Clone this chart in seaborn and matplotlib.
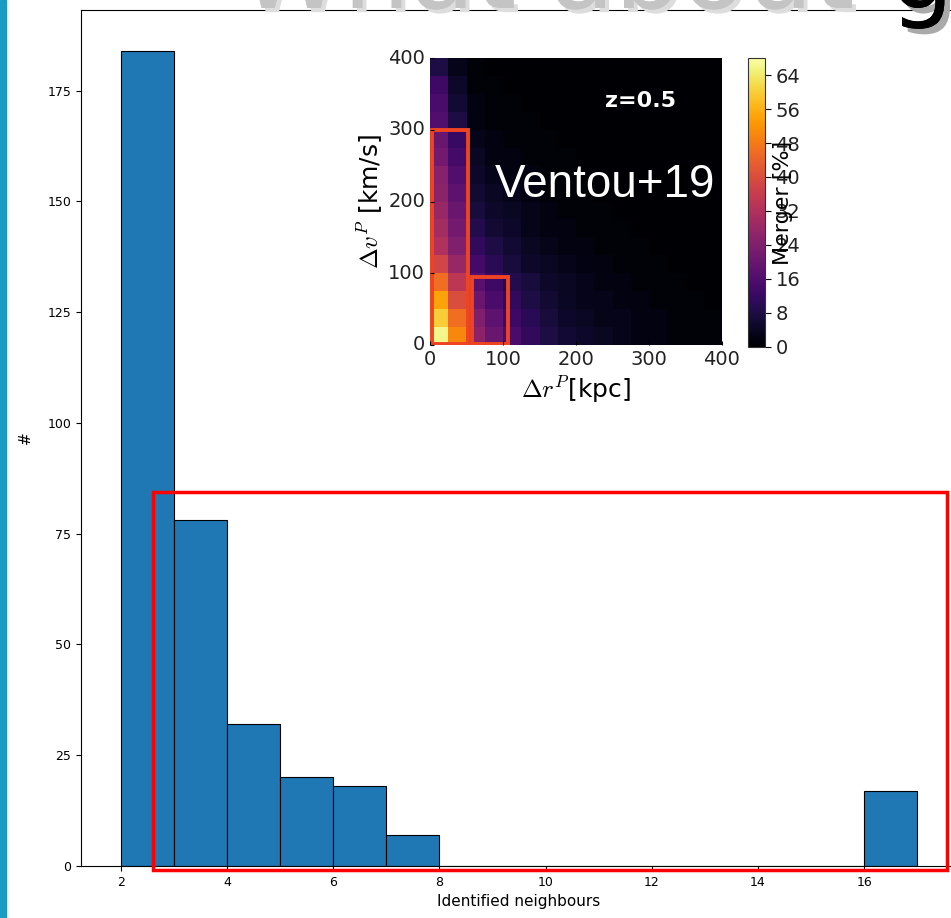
import numpy as np
import pandas as pd
import matplotlib
matplotlib.use("Agg")
import matplotlib.pyplot as plt
import matplotlib.patheffects as pe
from matplotlib.patches import Rectangle
import seaborn as sns

# histogram of identified neighbours
neighbours = [2, 3, 4, 5, 6, 7, 8, 9, 10, 11, 12, 13, 14, 15, 16]
counts = [184, 78, 32, 20, 18, 7, 0, 0, 0, 0, 0, 0, 0, 0, 17]
x_ticks = [2, 4, 6, 8, 10, 12, 14, 16]

# inset: merger fraction [%] per (dr, dv) cell, one list per dr bin of 25 kpc,
# values go from dv = 0 upward in 25 km/s steps
merger_by_dr = [
    [66, 60, 54, 46, 38, 32, 30, 28, 26, 25, 22, 20, 16, 15, 13, 8],
    [50, 46, 40, 34, 28, 24, 22, 20, 18, 16, 14, 12, 8, 6, 5, 3],
    [26, 24, 20, 17, 14, 11, 9, 7, 6, 5, 4, 3, 2, 2, 1, 1],
    [20, 18, 15, 13, 10, 8, 6, 5, 4, 3, 2, 2, 1, 1, 1, 0],
    [15, 13, 11, 9, 7, 6, 5, 4, 3, 2, 2, 1, 1, 1, 0, 0],
    [11, 10, 8, 7, 5, 4, 3, 3, 2, 2, 1, 1, 1, 0, 0, 0],
    [8, 7, 6, 5, 4, 3, 2, 2, 1, 1, 1, 1, 0, 0, 0, 0],
    [6, 5, 4, 4, 3, 2, 2, 1, 1, 1, 1, 0, 0, 0, 0, 0],
    [5, 4, 3, 3, 2, 2, 1, 1, 1, 0, 0, 0, 0, 0, 0, 0],
    [4, 3, 3, 2, 2, 1, 1, 1, 0, 0, 0, 0, 0, 0, 0, 0],
    [3, 3, 2, 2, 1, 1, 1, 0, 0, 0, 0, 0, 0, 0, 0, 0],
    [2, 2, 2, 1, 1, 1, 0, 0, 0, 0, 0, 0, 0, 0, 0, 0],
    [2, 2, 1, 1, 1, 0, 0, 0, 0, 0, 0, 0, 0, 0, 0, 0],
    [1, 1, 1, 1, 0, 0, 0, 0, 0, 0, 0, 0, 0, 0, 0, 0],
    [1, 1, 1, 0, 0, 0, 0, 0, 0, 0, 0, 0, 0, 0, 0, 0],
    [1, 1, 0, 0, 0, 0, 0, 0, 0, 0, 0, 0, 0, 0, 0, 0],
]
inset_ticks = [0, 100, 200, 300, 400]
cbar_ticks = [0, 8, 16, 24, 32, 40, 48, 56, 64]

plt.rcParams["mathtext.fontset"] = "cm"

W, H = 951, 918
fig = plt.figure(figsize=(W / 100, H / 100), dpi=100)

# main histogram
ax = fig.add_axes([81 / W, 1 - 866 / H, 876 / W, 856 / H])
df = pd.DataFrame({"n": neighbours, "count": counts})
sns.histplot(data=df, x="n", weights="count", binwidth=1, binrange=(2, 17),
             color="#1f77b4", alpha=1, edgecolor="black", linewidth=0.8, ax=ax)
ax.set_xlim(1.25, 17.75)
ax.set_ylim(0, 193.2)
ax.set_xticks(x_ticks)
ax.set_yticks([0, 25, 50, 75, 100, 125, 150, 175])
ax.tick_params(labelsize=9)
ax.set_xlabel("Identified neighbours", fontsize=11)
ax.set_ylabel("#", fontsize=11)
ax.yaxis.set_label_coords(-0.055, 0.5)

# red box over the tail
ax.add_patch(Rectangle((2.6, -0.9), 14.96, 85.4, fill=False, ec="red",
                       lw=2.5, clip_on=False, zorder=5))

# inset heat map
ax_in = fig.add_axes([430 / W, 1 - 345 / H, 292 / W, 287 / H])
cax = fig.add_axes([748 / W, 1 - 347 / H, 17 / W, 289 / H])
grid = np.array(merger_by_dr).T
sns.heatmap(grid, cmap="inferno", vmin=0, vmax=68, ax=ax_in, cbar_ax=cax,
            cbar_kws={"ticks": cbar_ticks})
ax_in.set_ylim(0, 16)
ax_in.set_xlim(0, 15.6)
pos = [t / 25 for t in inset_ticks]
ax_in.set_xticks(pos)
ax_in.set_xticklabels([str(t) for t in inset_ticks], rotation=0)
ax_in.set_yticks(pos)
ax_in.set_yticklabels([str(t) for t in inset_ticks], rotation=0)
ax_in.tick_params(labelsize=14, direction="in", length=3, color="black",
                  labelcolor="#222222")
ax_in.set_xlabel(r"$\Delta r^P$[kpc]", fontsize=18, labelpad=4)
ax_in.set_ylabel(r"$\Delta v^P$ [km/s]", fontsize=18, labelpad=2)
ax_in.add_patch(Rectangle((0.1, 0.05), 2.0, 11.95, fill=False, ec="#ee4422", lw=2.8))
ax_in.add_patch(Rectangle((2.3, 0.05), 2.0, 3.75, fill=False, ec="#ee4422", lw=2.8))
ax_in.text(0.72, 0.85, "z=0.5", transform=ax_in.transAxes, color="white",
           fontsize=16, fontweight="bold", ha="center", va="center")

cbar = ax_in.collections[0].colorbar
cbar.outline.set_linewidth(0.8)
cbar.outline.set_edgecolor("#333333")
cax.tick_params(labelsize=14, length=4, labelcolor="#222222")
cax.set_ylabel("Merger [%]", fontsize=16, labelpad=-20)

fig.text(495 / W, 1 - 185 / H, "Ventou+19", color="white", fontsize=33,
         family="Liberation Sans", ha="left", va="center")

# slide title, cut off at the top
fig.text(888 / W, 1 - 8 / H, "What about ", ha="right", va="baseline",
         fontsize=76, color="#c4c4c4",
         path_effects=[pe.withSimplePatchShadow(offset=(3, -3), shadow_rgbFace="#dddddd", alpha=1), pe.Normal()])
fig.text(890 / W, 1 - 8 / H, "g", ha="left", va="baseline", fontsize=72,
         color="black",
         path_effects=[pe.withSimplePatchShadow(offset=(4, -4), shadow_rgbFace="#aaaaaa", alpha=1), pe.Normal()])

# blue strip on the left edge
fig.patches.append(Rectangle((0, 0), 6 / W, 1, transform=fig.transFigure,
                             color="#1b9bc2", zorder=10))

fig.savefig("out.png", dpi=100)
